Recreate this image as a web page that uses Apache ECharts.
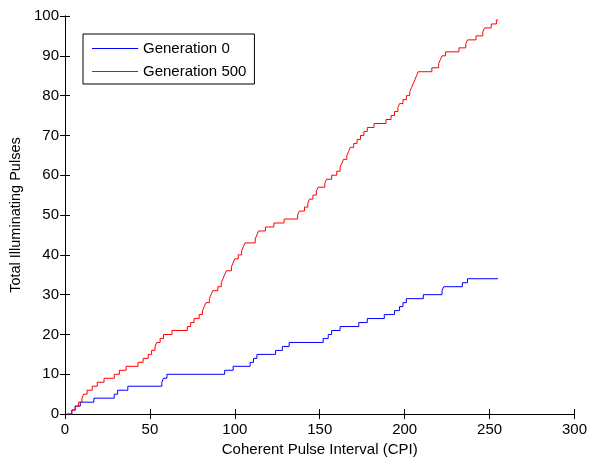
<!DOCTYPE html>
<html>
<head>
<meta charset="utf-8">
<script src="https://cdn.jsdelivr.net/npm/echarts@6/dist/echarts.min.js"></script>
<style>
  html, body { margin: 0; padding: 0; background: #fff; }
  #chart { width: 590px; height: 462px; }
</style>
</head>
<body>
<div id="chart"></div>
<script>
// Cumulative illuminating pulses: CPI at which the count steps up, and the new count.
const cpiGen0 = [1, 4, 6, 9, 17, 29, 31, 37, 57, 58, 60, 94, 99, 109, 111, 113, 124, 128, 132,
  152, 155, 157, 162, 173, 178, 188, 194, 197, 199, 201, 211, 222, 223, 234, 237, 255];
const pulsesGen0 = [0, 1, 2, 3, 4, 5, 6, 7, 8, 9, 10, 11, 12, 13, 14, 15, 16, 17, 18,
  19, 20, 21, 22, 23, 24, 25, 26, 27, 28, 29, 30, 31, 32, 33, 34, 34];

const cpiGen500 = [1, 4, 6, 8, 10, 11, 13, 16, 19, 23, 29, 32, 36, 43, 46, 49, 51, 53, 54, 56,
  58, 63, 72, 74, 76, 79, 81, 82, 83, 85, 86, 87, 90, 92, 93, 94, 95, 98, 99, 100,
  102, 104, 105, 106, 112, 113, 114, 118, 123, 129, 137, 138, 141, 143, 144, 146, 148, 149, 153, 154,
  157, 160, 162, 163, 164, 166, 167, 168, 170, 172, 174, 176, 178, 182, 189, 192, 194, 196, 197, 199,
  201, 203, 204, 205, 206, 207, 208, 216, 220, 221, 222, 224, 232, 236, 237, 242, 246, 247, 251, 254, 255];
const pulsesGen500 = [0, 1, 2, 3, 4, 5, 6, 7, 8, 9, 10, 11, 12, 13, 14, 15, 16, 17, 18, 19,
  20, 21, 22, 23, 24, 25, 26, 27, 28, 29, 30, 31, 32, 33, 34, 35, 36, 37, 38, 39,
  40, 41, 42, 43, 44, 45, 46, 47, 48, 49, 50, 51, 52, 53, 54, 55, 56, 57, 58, 59,
  60, 61, 62, 63, 64, 65, 66, 67, 68, 69, 70, 71, 72, 73, 74, 75, 76, 77, 78, 79,
  80, 81, 82, 83, 84, 85, 86, 87, 88, 89, 90, 91, 92, 93, 94, 95, 96, 97, 98, 99, 99];

const seriesNames = ['Generation 0', 'Generation 500'];
const xTicks = { min: 0, max: 300, interval: 50 };
const yTicks = { min: 0, max: 100, interval: 10 };

const zip = (xs, ys) => xs.map((x, i) => [x, ys[i]]);

const FONT = "Arial, 'Liberation Sans', sans-serif";
const axisLine = { show: true, lineStyle: { color: '#000', width: 1 } };
const tick = { show: true, inside: true, length: 5, lineStyle: { color: '#000', width: 1 } };

const chart = echarts.init(document.getElementById('chart'), null, { renderer: 'canvas' });
chart.setOption({
  animation: false,
  backgroundColor: '#fff',
  grid: { left: 65, right: 14, top: 16, bottom: 45, containLabel: false },
  legend: {
    orient: 'vertical',
    left: 83, top: 34,
    padding: [7, 8, 5, 9],
    itemWidth: 46, itemHeight: 14, itemGap: 8,
    // plain line swatch, no marker
    icon: 'path://M0,0L46,0L46,1L0,1Z',
    borderColor: '#000', borderWidth: 1,
    backgroundColor: '#fff',
    textStyle: { fontFamily: FONT, fontSize: 15, color: '#000' },
    data: seriesNames
  },
  xAxis: [
    {
      type: 'value', position: 'bottom', ...xTicks,
      name: 'Coherent Pulse Interval (CPI)', nameLocation: 'middle', nameGap: 27,
      nameTextStyle: { fontFamily: FONT, fontSize: 15, color: '#000' },
      axisLine, axisTick: tick, splitLine: { show: false },
      axisLabel: { fontFamily: FONT, fontSize: 15, color: '#000', margin: 8 }
    },
    {
      type: 'value', position: 'top', ...xTicks,
      axisLine, axisTick: tick, splitLine: { show: false },
      axisLabel: { show: false }
    }
  ],
  yAxis: [
    {
      type: 'value', position: 'left', ...yTicks,
      name: 'Total Illuminating Pulses', nameLocation: 'middle', nameGap: 39,
      nameTextStyle: { fontFamily: FONT, fontSize: 14.5, color: '#000' },
      axisLine, axisTick: tick, splitLine: { show: false },
      axisLabel: { fontFamily: FONT, fontSize: 15, color: '#000', margin: 6 }
    },
    {
      type: 'value', position: 'right', ...yTicks,
      axisLine, axisTick: tick, splitLine: { show: false },
      axisLabel: { show: false }
    }
  ],
  series: [
    {
      name: seriesNames[0], type: 'line', step: 'end',
      symbol: 'none', color: '#0000ff',
      lineStyle: { color: '#0000ff', width: 1 },
      data: zip(cpiGen0, pulsesGen0)
    },
    {
      name: seriesNames[1], type: 'line', step: 'end',
      symbol: 'none', color: '#ff0000',
      lineStyle: { color: '#ff0000', width: 1 },
      data: zip(cpiGen500, pulsesGen500)
    }
  ]
});
</script>
</body>
</html>
